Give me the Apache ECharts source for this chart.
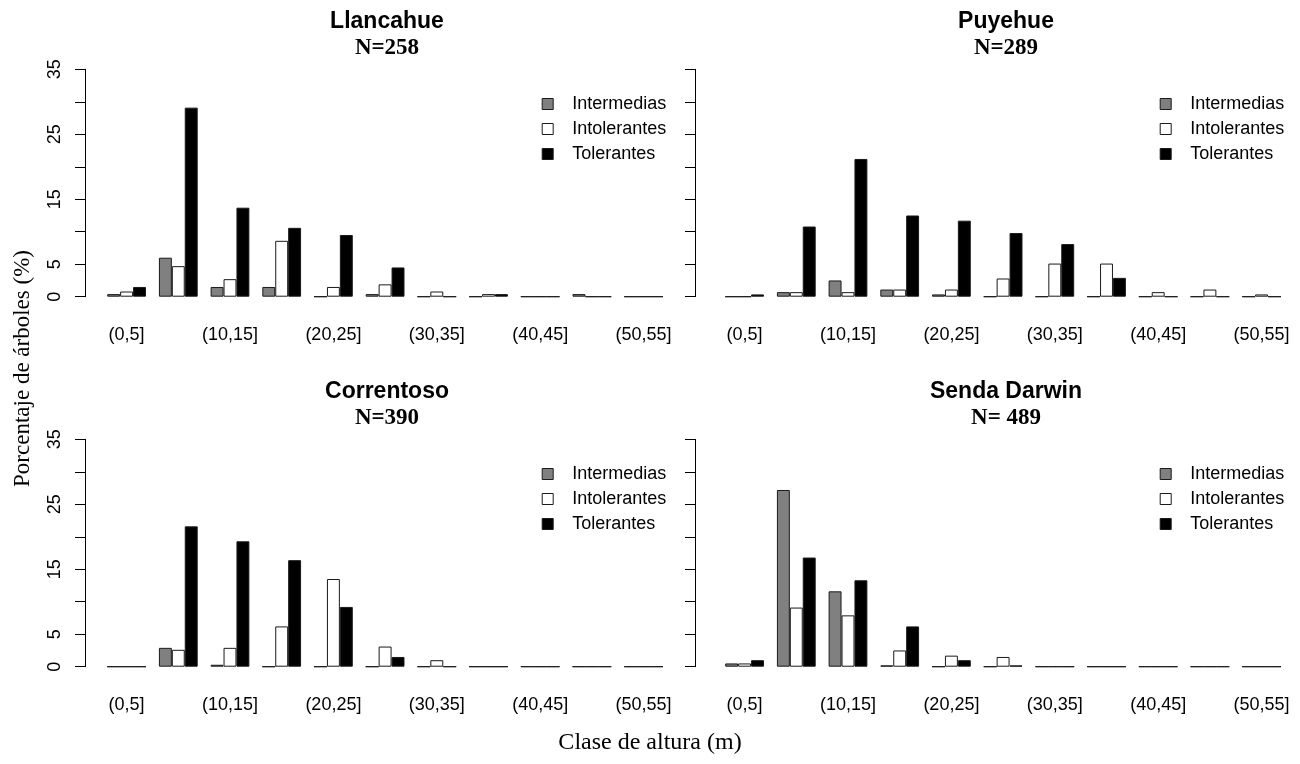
<!DOCTYPE html>
<html>
<head>
<meta charset="utf-8">
<script src="https://cdn.jsdelivr.net/npm/echarts@6/dist/echarts.min.js"></script>
<style>html,body{margin:0;padding:0;background:#fff}#chart{width:1300px;height:764px}</style>
</head>
<body>
<div id="chart"></div>
<script>
// ---- data ----
const categories = ['(0,5]','(5,10]','(10,15]','(15,20]','(20,25]','(25,30]','(30,35]','(35,40]','(40,45]','(45,50]','(50,55]'];
const seriesNames = ['Intermedias','Intolerantes','Tolerantes'];
const panelTitles = ['Llancahue','Puyehue','Correntoso','Senda Darwin'];
const panelN = ['N=258','N=289','N=390','N= 489'];
const yTickLabels = [0, 5, 15, 25, 35];

const llancahueIntermedias  = [0.4, 6.0, 1.5, 1.5, 0, 0.4, 0, 0, 0, 0.4, 0];
const llancahueIntolerantes = [0.8, 4.7, 2.7, 8.6, 1.5, 1.9, 0.8, 0.4, 0, 0, 0];
const llancahueTolerantes   = [1.5, 29.1, 13.7, 10.6, 9.5, 4.5, 0, 0.4, 0, 0, 0];

const puyehueIntermedias  = [0, 0.7, 2.5, 1.1, 0.35, 0, 0, 0, 0, 0, 0];
const puyehueIntolerantes = [0, 0.7, 0.7, 1.1, 1.1, 2.8, 5.1, 5.1, 0.7, 1.1, 0.35];
const puyehueTolerantes   = [0.35, 10.8, 21.2, 12.5, 11.7, 9.8, 8.1, 2.9, 0, 0, 0];

const correntosoIntermedias  = [0, 2.9, 0.3, 0, 0, 0, 0, 0, 0, 0, 0];
const correntosoIntolerantes = [0, 2.6, 2.9, 6.2, 13.5, 3.1, 1.0, 0, 0, 0, 0];
const correntosoTolerantes   = [0, 21.6, 19.3, 16.4, 9.2, 1.5, 0, 0, 0, 0, 0];

const darwinIntermedias  = [0.5, 27.2, 11.6, 0.2, 0, 0, 0, 0, 0, 0, 0];
const darwinIntolerantes = [0.5, 9.1, 7.9, 2.5, 1.7, 1.5, 0, 0, 0, 0, 0];
const darwinTolerantes   = [1.0, 16.8, 13.3, 6.2, 1.0, 0.2, 0, 0, 0, 0, 0];

const panelData = [
  [llancahueIntermedias, llancahueIntolerantes, llancahueTolerantes],
  [puyehueIntermedias, puyehueIntolerantes, puyehueTolerantes],
  [correntosoIntermedias, correntosoIntolerantes, correntosoTolerantes],
  [darwinIntermedias, darwinIntolerantes, darwinTolerantes]
];

// ---- layout ----
const SANS = 'Liberation Sans';
const SERIF = 'Liberation Serif';
const fills = ['#808080', '#ffffff', '#000000'];
const axisX = [85, 695];            // y-axis line x per column
const firstCenter = [126.6, 744.6]; // first group centre per column
const titleX = [387, 1006];
const legendX = [541.7, 1159.7];
const rowTop = [69.3, 439.3];       // top of plot (value 35) per row
const plotH = 227.4;
const band = 51.7;
const gridW = band * categories.length;

const grids = [], xAxes = [], yAxes = [], series = [], titles = [], legends = [];
for (let p = 0; p < 4; p++) {
  const col = p % 2, row = Math.floor(p / 2);
  const ax = axisX[col];
  const gLeft = firstCenter[col] - band / 2;
  grids.push({left: gLeft, top: rowTop[row], width: gridW, height: plotH, containLabel: false});
  xAxes.push({
    type: 'category', gridIndex: p, data: categories,
    axisLine: {show: false}, axisTick: {show: false},
    axisLabel: {interval: 1, margin: 29, fontFamily: SANS, fontSize: 18, color: '#000', lineHeight: 18}
  });
  yAxes.push({
    type: 'value', gridIndex: p, min: 0, max: 35, interval: 5,
    offset: gLeft - ax,
    splitLine: {show: false},
    axisLine: {show: true, lineStyle: {color: '#000', width: 1}},
    axisTick: {show: true, length: 10, lineStyle: {color: '#000', width: 1}},
    axisLabel: {
      show: col === 0,
      rotate: 90, margin: 21, fontFamily: SANS, fontSize: 18, color: '#000', lineHeight: 18,
      formatter: v => yTickLabels.includes(v) ? String(v) : ''
    }
  });
  for (let s = 0; s < 3; s++) {
    series.push({
      type: 'bar', name: seriesNames[s], xAxisIndex: p, yAxisIndex: p,
      data: panelData[p][s],
      barGap: '0%', barCategoryGap: '25%',
      itemStyle: {color: fills[s], borderColor: '#1a1a1a', borderWidth: 1},
      emphasis: {disabled: true}, animation: false
    });
  }
  const cx = titleX[col];
  titles.push({text: panelTitles[p], left: cx, top: 9 + row * 370, textAlign: 'center', padding: 0,
    textStyle: {fontFamily: SANS, fontWeight: 'bold', fontSize: 23, color: '#000', lineHeight: 26}});
  titles.push({text: panelN[p], left: cx, top: 35 + row * 370, textAlign: 'center', padding: 0,
    textStyle: {fontFamily: SERIF, fontWeight: 'bold', fontSize: 23, color: '#000', lineHeight: 26}});
  legends.push({
    data: seriesNames, orient: 'vertical', left: legendX[col], top: 95 + row * 370, padding: 0,
    itemWidth: 11, itemHeight: 11, itemGap: 7, icon: 'rect', selectedMode: false,
    itemStyle: {borderColor: '#1a1a1a', borderWidth: 1},
    textStyle: {fontFamily: SANS, fontSize: 18, color: '#000', lineHeight: 18, padding: [0, 0, 0, 14]}
  });
}

const chart = echarts.init(document.getElementById('chart'), null, {renderer: 'canvas'});
chart.setOption({
  backgroundColor: '#fff',
  animation: false,
  title: titles,
  legend: legends,
  grid: grids,
  xAxis: xAxes,
  yAxis: yAxes,
  series: series,
  graphic: [
    {type: 'text', left: 11, top: 250, rotation: Math.PI / 2,
     style: {text: 'Porcentaje de árboles (%)', font: '23px "Liberation Serif"', fill: '#000'}},
    {type: 'text', left: 'center', top: 731,
     style: {text: 'Clase de altura (m)', font: '24px "Liberation Serif"', fill: '#000'}}
  ]
});
</script>
</body>
</html>
